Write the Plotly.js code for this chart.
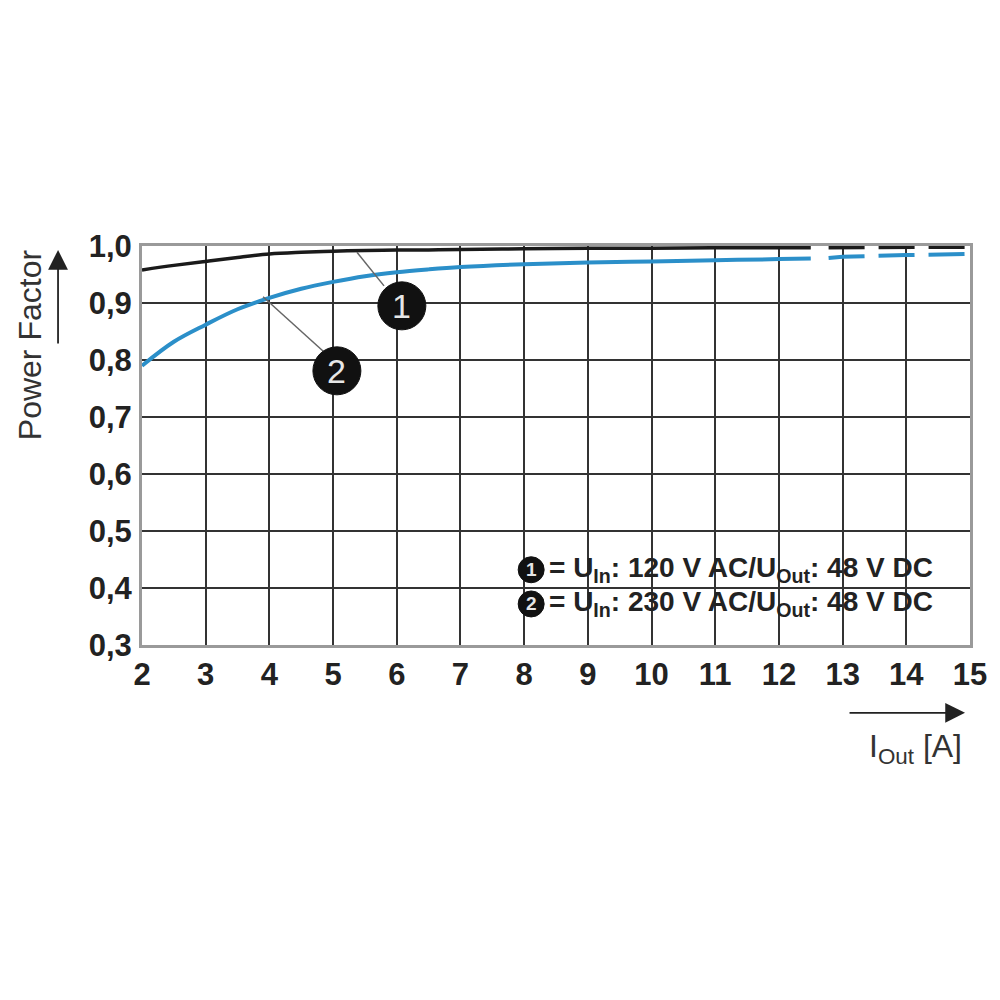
<!DOCTYPE html>
<html><head><meta charset="utf-8">
<script src="https://cdn.plot.ly/plotly-3.0.1.min.js"></script>
<style>body{margin:0;background:#fff}#c{width:1000px;height:1000px}</style>
</head><body><div id="c"></div>
<script>
const xSolid = [2, 2.5, 3, 3.5, 4, 4.5, 5, 5.5, 6, 6.5, 7, 8, 9, 10, 11, 12, 12.5];
const pf120Solid = [0.958, 0.966, 0.973, 0.980, 0.986, 0.989, 0.991, 0.992, 0.993, 0.993, 0.994, 0.995, 0.996, 0.996, 0.997, 0.997, 0.997];
const pf230Solid = [0.790, 0.832, 0.862, 0.889, 0.909, 0.925, 0.937, 0.947, 0.954, 0.959, 0.963, 0.968, 0.971, 0.973, 0.975, 0.977, 0.978];
const xDash = [12.78, 13, 14, 15];
const pf120Dash = [0.997, 0.997, 0.998, 0.998];
const pf230Dash = [0.979, 0.981, 0.984, 0.986];
const xTicks = [2,3,4,5,6,7,8,9,10,11,12,13,14,15];
const yTicks = [0.3,0.4,0.5,0.6,0.7,0.8,0.9,1.0];
const yTickLabels = ["0,3","0,4","0,5","0,6","0,7","0,8","0,9","1,0"];
const legendLabels = ["= U<sub>In</sub>: 120 V AC/U<sub>Out</sub>: 48 V DC", "= U<sub>In</sub>: 230 V AC/U<sub>Out</sub>: 48 V DC"];

const BLUE = '#2b8fc9', BLACK = '#1a1a1a';
const traces = [
  {x: xSolid, y: pf230Solid, mode:'lines', line:{color:BLUE, width:4, shape:'spline', smoothing:1}},
  {x: xDash, y: pf230Dash, mode:'lines', line:{color:BLUE, width:4, dash:'36px,14px'}},
  {x: xSolid, y: pf120Solid, mode:'lines', line:{color:BLACK, width:3.5, shape:'spline', smoothing:1}},
  {x: xDash, y: pf120Dash, mode:'lines', line:{color:BLACK, width:3.5, dash:'36px,14px'}}
];

const FAM = 'Liberation Sans, Arial, sans-serif';
const tickFont = {family:FAM, size:31, color:'#222', weight:'bold'};
function circ(x, y, r){
  return {type:'circle', xref:'x', yref:'y', xsizemode:'pixel', ysizemode:'pixel', xanchor:x, yanchor:y,
    x0:-r, x1:r, y0:-r, y1:r, fillcolor:'#111', line:{color:'#111', width:1}, layer:'above'};
}
const shapes = [
  {type:'line', xref:'x', yref:'y', x0:5.375, y0:0.989, x1:5.80, y1:0.930, line:{color:'#666', width:1.5}},
  {type:'line', xref:'x', yref:'y', x0:3.90, y0:0.911, x1:4.85, y1:0.815, line:{color:'#666', width:1.5}},
  circ(6.08, 0.895, 24), circ(5.06, 0.781, 24),
  circ(8.11, 0.432, 13), circ(8.11, 0.372, 13)
];
const numFont = {family:FAM, size:34, color:'#e6e6e6'};
const smallNum = {family:FAM, size:19, color:'#e6e6e6', weight:'bold'};
const legFont = {family:FAM, size:28, color:'#222', weight:'bold'};
const titleFont = {family:FAM, size:32, color:'#333'};
const annotations = [
  {x:6.08, y:0.895, xref:'x', yref:'y', text:'1', showarrow:false, font:numFont},
  {x:5.06, y:0.781, xref:'x', yref:'y', text:'2', showarrow:false, font:numFont},
  {x:8.11, y:0.432, xref:'x', yref:'y', text:'1', showarrow:false, font:smallNum},
  {x:8.11, y:0.372, xref:'x', yref:'y', text:'2', showarrow:false, font:smallNum},
  {x:8.36, y:0.432, xref:'x', yref:'y', xanchor:'left', yanchor:'middle', text:legendLabels[0], showarrow:false, font:legFont},
  {x:8.36, y:0.372, xref:'x', yref:'y', xanchor:'left', yanchor:'middle', text:legendLabels[1], showarrow:false, font:legFont},
  {x:-0.135, y:0.752, xref:'paper', yref:'paper', xanchor:'center', yanchor:'middle', text:'Power Factor', textangle:-90, showarrow:false, font:titleFont},
  {x:0.934, y:-0.26, xref:'paper', yref:'paper', xanchor:'center', yanchor:'middle', text:'I<sub>Out</sub> [A]', showarrow:false, font:titleFont},
  {x:-0.1014, y:0.99, xref:'paper', yref:'paper', text:'', showarrow:true, ax:0, ay:95, arrowhead:2, arrowsize:2.2, arrowwidth:1.8, arrowcolor:'#222'},
  {x:0.994, y:-0.170, xref:'paper', yref:'paper', text:'', showarrow:true, ax:-117, ay:0, arrowhead:2, arrowsize:2.2, arrowwidth:1.8, arrowcolor:'#222'}
];

const layout = {
  width:1000, height:1000, showlegend:false,
  paper_bgcolor:'#fff', plot_bgcolor:'#fff',
  margin:{l:142, r:30, t:246, b:355},
  xaxis:{range:[2,15], tickvals:xTicks, ticktext:xTicks.map(String), showgrid:true, gridcolor:'#333', gridwidth:2,
    showline:true, mirror:true, linecolor:'#9a9a9a', linewidth:3, zeroline:false, ticks:'', tickfont:tickFont, ticklabelstandoff:0},
  yaxis:{range:[0.3,1.0], tickvals:yTicks, ticktext:yTickLabels, showgrid:true, gridcolor:'#333', gridwidth:2,
    showline:true, mirror:true, linecolor:'#9a9a9a', linewidth:3, zeroline:false, ticks:'', tickfont:tickFont, ticklabelstandoff:1},
  shapes:shapes, annotations:annotations
};
Plotly.newPlot('c', traces, layout, {staticPlot:true});
</script></body></html>
